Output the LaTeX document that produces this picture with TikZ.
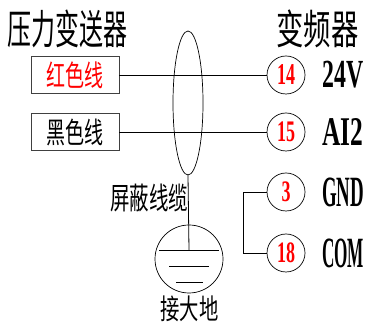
\documentclass[tikz,border=0pt]{standalone}
\usepackage{graphicx}
\usepackage{xcolor}
\usepackage{fontspec}
\setmainfont{Liberation Serif}
\newfontfamily\cjk{Noto Sans CJK SC}
\usetikzlibrary{shapes.geometric}
\newcommand{\fitlatin}[3]{\resizebox*{#1pt}{#2pt}{\bfseries #3}}
\newcommand{\fitcjk}[3]{\resizebox*{#1pt}{#2pt}{\cjk #3}}
\tikzstyle{title} = [inner sep=0pt]
\tikzstyle{wirebox} = [rectangle, minimum width=88pt, minimum height=37pt, inner sep=0pt, draw=black!75, line width=0.9pt]
\tikzstyle{pin} = [circle, minimum size=38pt, inner sep=0pt, draw=black, line width=0.7pt, text=red]
\tikzstyle{signal} = [anchor=center, inner sep=0pt]
\tikzstyle{caption} = [inner sep=0pt]
\tikzstyle{wire} = [line width=0.8pt]
\begin{document}
\begin{tikzpicture}[x=1pt,y=1pt,node distance=57pt]
		\useasboundingbox (0,0) rectangle (366,323);
		\node (sensor) [title] at (67.5,294.5) {\fitcjk{120}{38}{压力变送器}};
		\node (vfd) [title] at (317.5,294.5) {\fitcjk{82}{38}{变频器}};
		\node (red) [wirebox] at (75,248) {\textcolor{red}{\fitcjk{57}{27}{红色线}}};
		\node (black) [wirebox,below of=red] {\fitcjk{57}{27}{黑色线}};
		\node (pin14) [pin] at (286,248) {\fitlatin{18}{20}{14}};
		\node (pin15) [pin,below of=pin14] {\fitlatin{18}{20}{15}};
		\node (pin3) [pin,below of=pin15,yshift=-3pt] {\fitlatin{9}{20}{3}};
		\node (pin18) [pin,below of=pin3,yshift=-4pt] {\fitlatin{18}{20}{18}};
		\node (sig24) [signal,right of=pin14] {\fitlatin{41}{27}{24V}};
		\node (sigai) [signal,right of=pin15] {\fitlatin{41}{27}{AI2}};
		\node (siggnd) [signal,right of=pin3] {\fitlatin{42}{29}{GND}};
		\node (sigcom) [signal,right of=pin18] {\fitlatin{42}{29}{COM}};
		\node (cable) [ellipse, minimum width=30pt, minimum height=144pt, inner sep=0pt, draw=black, line width=0.7pt] at (188,220) {};
		\node (shield) [caption] at (149,125) {\fitcjk{78}{28}{屏蔽线缆}};
		\node (earth) [circle, minimum size=68pt, inner sep=0pt, draw=black, line width=0.7pt] at (189,64) {};
		\node (ground) [caption] at (189.5,14.5) {\fitcjk{58}{26}{接大地}};
		\coordinate (g1l) at (159,73);
		\coordinate (g1r) at (219,73);
		\coordinate (g1m) at (189,73);
		\coordinate (g2l) at (169,57);
		\coordinate (g2r) at (209,57);
		\coordinate (g3l) at (176,41);
		\coordinate (g3r) at (203,41);
		\draw [wire] (red) -- (pin14);
		\draw [wire] (black) -- (pin15);
		\draw [wire] (pin3.west) -- ++(-23,0) |- (pin18.west);
		\draw [wire] (cable.south) -- (g1m);
		\draw [wire] (g1l) -- (g1r);
		\draw [wire] (g2l) -- (g2r);
		\draw [wire] (g3l) -- (g3r);
	\end{tikzpicture}
\end{document}
